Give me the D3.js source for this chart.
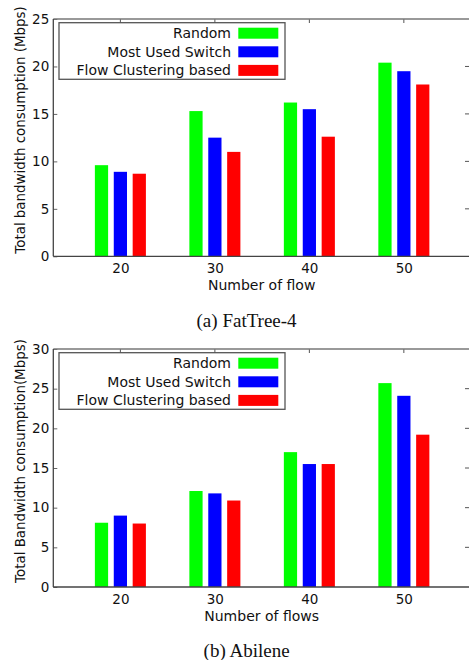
<!DOCTYPE html>
<html>
<head>
<meta charset="utf-8">
<script src="https://cdn.jsdelivr.net/npm/d3@7"></script>
<style>
	body { margin: 0; background: #fff; }
	svg text { font-family: 'DejaVu Sans', Verdana, sans-serif; fill: #111; }
	.caption { font-family: 'Liberation Serif', 'Times New Roman', serif; }
</style>
</head>
<body>
<div id="chart"></div>
<script>
// data
const flows = ['20', '30', '40', '50'];
const seriesNames = ['Random', 'Most Used Switch', 'Flow Clustering based'];
const seriesColors = ['#00ff00', '#0000ff', '#ff0000'];

// (a) FatTree-4
const fatTreeRandom = [9.6, 15.3, 16.2, 20.4];
const fatTreeMostUsed = [8.9, 12.5, 15.5, 19.5];
const fatTreeClustering = [8.7, 11.0, 12.6, 18.1];
const fatTreeTicks = [0, 5, 10, 15, 20, 25];

// (b) Abilene
const abileneRandom = [8.1, 12.1, 17.0, 25.7];
const abileneMostUsed = [9.0, 11.8, 15.5, 24.1];
const abileneClustering = [8.0, 10.9, 15.5, 19.2];
const abileneTicks = [0, 5, 10, 15, 20, 25, 30];

const WIDTH = 469;
const HEIGHT = 660;
const LEFT = 53.3;
const RIGHT = 470;
const BAR_W = 0.14;
const BAR_STEP = 0.2;

const svg = d3.select('#chart')
	.append('svg')
	.attr('width', WIDTH)
	.attr('height', HEIGHT);

function drawPanel(opts) {
	const { top, bottom, yMax, ticks, series, yLabel, yLabelCenter, xLabel, xLabelY, caption, captionY } = opts;

	const x = d3.scaleLinear().domain([-0.71, 3.7]).range([LEFT, RIGHT]);
	const y = d3.scaleLinear().domain([0, yMax]).range([bottom, top]);

	const g = svg.append('g');

	// bars
	series.forEach((values, j) => {
		g.selectAll('.bar-' + j)
			.data(values)
			.join('rect')
			.attr('class', 'bar-' + j)
			.attr('x', (d, i) => x(i + (j - 1) * BAR_STEP - BAR_W / 2))
			.attr('width', x(BAR_W) - x(0))
			.attr('y', d => y(d))
			.attr('height', d => y(0) - y(d))
			.attr('fill', seriesColors[j]);
	});

	// left axis, inward ticks
	const yAxis = g.append('g')
		.attr('transform', `translate(${LEFT},0)`)
		.call(d3.axisLeft(y).tickValues(ticks).tickSizeInner(-4).tickSizeOuter(0).tickPadding(4));
	yAxis.select('.domain').remove();
	yAxis.selectAll('line').attr('stroke', '#666');
	yAxis.selectAll('text').style('font-size', '13.5px');

	// right ticks
	g.selectAll('.rtick')
		.data(ticks.filter(t => t > 0 && t < yMax))
		.join('line')
		.attr('class', 'rtick')
		.attr('x1', RIGHT - 5)
		.attr('x2', RIGHT)
		.attr('y1', d => y(d))
		.attr('y2', d => y(d))
		.attr('stroke', '#555');

	// top ticks
	g.selectAll('.ttick')
		.data(flows)
		.join('line')
		.attr('class', 'ttick')
		.attr('x1', (d, i) => x(i))
		.attr('x2', (d, i) => x(i))
		.attr('y1', top)
		.attr('y2', top + 4)
		.attr('stroke', '#555');

	// bottom axis
	const xAxis = g.append('g')
		.attr('transform', `translate(0,${bottom})`)
		.call(d3.axisBottom(x).tickValues([0, 1, 2, 3]).tickFormat(i => flows[i]).tickSize(0).tickPadding(7));
	xAxis.select('.domain').remove();
	xAxis.selectAll('text').style('font-size', '13.5px');

	// frame
	g.append('line').attr('x1', LEFT).attr('x2', RIGHT).attr('y1', top).attr('y2', top)
		.attr('stroke', '#777').attr('stroke-width', 1.6);
	g.append('line').attr('x1', LEFT).attr('x2', LEFT).attr('y1', top).attr('y2', bottom)
		.attr('stroke', '#444').attr('stroke-width', 1.3);
	g.append('line').attr('x1', LEFT).attr('x2', RIGHT).attr('y1', bottom).attr('y2', bottom)
		.attr('stroke', '#444').attr('stroke-width', 1.3);

	// legend
	const legend = g.append('g').attr('transform', `translate(59,${top + 3.7})`);
	legend.append('rect')
		.attr('width', 226)
		.attr('height', 56.6)
		.attr('fill', '#fff')
		.attr('stroke', '#555')
		.attr('stroke-width', 1.3);
	seriesNames.forEach((name, j) => {
		const cy = 10.5 + j * 18.6;
		legend.append('text')
			.attr('x', 172)
			.attr('y', cy)
			.attr('dy', '0.36em')
			.attr('text-anchor', 'end')
			.style('font-size', '14px')
			.text(name);
		legend.append('rect')
			.attr('x', 179.3)
			.attr('y', cy - 5.5)
			.attr('width', 40)
			.attr('height', 11)
			.attr('fill', seriesColors[j]);
	});

	// axis titles
	g.append('text')
		.attr('transform', `translate(25,${yLabelCenter}) rotate(-90)`)
		.attr('text-anchor', 'middle')
		.style('font-size', '13.4px')
		.text(yLabel);
	g.append('text')
		.attr('x', (LEFT + RIGHT) / 2)
		.attr('y', xLabelY)
		.attr('text-anchor', 'middle')
		.style('font-size', '14px')
		.text(xLabel);

	// caption
	g.append('text')
		.attr('class', 'caption')
		.attr('x', 246.6)
		.attr('y', captionY)
		.attr('text-anchor', 'middle')
		.style('font-size', '19px')
		.text(caption);
}

drawPanel({
	top: 19,
	bottom: 256.3,
	yMax: 25,
	ticks: fatTreeTicks,
	series: [fatTreeRandom, fatTreeMostUsed, fatTreeClustering],
	yLabel: 'Total bandwidth consumption (Mbps)',
	yLabelCenter: 130,
	xLabel: 'Number of flow',
	xLabelY: 290,
	caption: '(a) FatTree-4',
	captionY: 327
});

drawPanel({
	top: 349,
	bottom: 587,
	yMax: 30,
	ticks: abileneTicks,
	series: [abileneRandom, abileneMostUsed, abileneClustering],
	yLabel: 'Total Bandwidth consumption(Mbps)',
	yLabelCenter: 461,
	xLabel: 'Number of flows',
	xLabelY: 621,
	caption: '(b) Abilene',
	captionY: 657
});
</script>
</body>
</html>
